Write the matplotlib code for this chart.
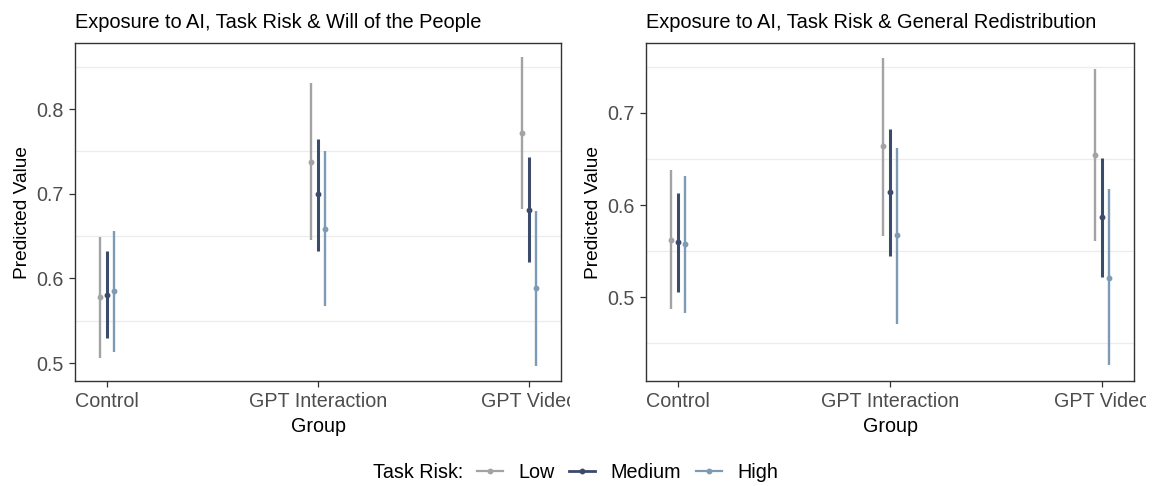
import numpy as np
import matplotlib.pyplot as plt
from matplotlib.lines import Line2D
from matplotlib.transforms import Bbox, TransformedBbox

plt.rcParams['font.family'] = ['Liberation Sans', 'DejaVu Sans']

groups = ["Control", "GPT Interaction", "GPT Video"]
risks = ["Low", "Medium", "High"]
colors = {"Low": "#a3a3a6", "Medium": "#3c4a6c", "High": "#7d9bb4"}

# Will of the People: estimate, lower, upper per risk level (Control, Interaction, Video)
will_est = {"Low": [0.578, 0.738, 0.772], "Medium": [0.581, 0.700, 0.681], "High": [0.585, 0.659, 0.589]}
will_lo = {"Low": [0.506, 0.646, 0.682], "Medium": [0.530, 0.633, 0.620], "High": [0.513, 0.568, 0.497]}
will_hi = {"Low": [0.649, 0.831, 0.861], "Medium": [0.632, 0.765, 0.743], "High": [0.656, 0.750, 0.680]}

# General Redistribution
red_est = {"Low": [0.562, 0.664, 0.654], "Medium": [0.560, 0.614, 0.587], "High": [0.558, 0.567, 0.521]}
red_lo = {"Low": [0.487, 0.566, 0.561], "Medium": [0.506, 0.545, 0.522], "High": [0.483, 0.471, 0.426]}
red_hi = {"Low": [0.638, 0.760, 0.748], "Medium": [0.613, 0.683, 0.651], "High": [0.632, 0.662, 0.617]}

W, H = 1158, 486
FS = 14.2
fig = plt.figure(figsize=(W / 100, H / 100), dpi=100)


def px_axes(x0, x1, y0, y1):
    return fig.add_axes([x0 / W, 1 - y1 / H, (x1 - x0) / W, (y1 - y0) / H])


def panel(ax, est, lo, hi, title, ylim, yticks, grid, clip_right):
    x = np.arange(1, len(groups) + 1)
    offs = {"Low": -0.033, "Medium": 0.0, "High": 0.033}
    for r in risks:
        xs = x + offs[r]
        lw = 2.2 if r == "Medium" else 1.7
        ax.vlines(xs, lo[r], hi[r], color=colors[r], linewidth=lw, zorder=3)
        ax.plot(xs, est[r], 'o', color=colors[r], markersize=3.2, zorder=4)
    for g in grid:
        ax.axhline(g, color="#ececec", linewidth=0.9, zorder=0)
    ax.set_xlim(0.85, 3.15)
    ax.set_ylim(*ylim)
    ax.set_yticks(yticks)
    ax.set_yticklabels([f"{t:.1f}" for t in yticks])
    ax.set_xticks(x)
    ax.set_xticklabels(groups)
    ax.tick_params(axis='both', labelsize=FS, labelcolor="#4d4d4d", color="#333333",
                   length=4, width=0.9, pad=4)
    for s in ax.spines.values():
        s.set_color("#333333")
        s.set_linewidth(1.0)
    ax.set_xlabel("Group", fontsize=FS, labelpad=4)
    ax.set_ylabel("Predicted Value", fontsize=FS - 0.4, labelpad=4)
    ax.set_title(title, fontsize=FS + 0.2, loc='left', pad=11)
    cb = TransformedBbox(Bbox([[0, 0], [clip_right / W, 1]]), fig.transFigure)
    for lbl in ax.get_xticklabels():
        lbl.set_clip_on(True)
        lbl.set_clip_box(cb)


ax1 = px_axes(75, 561, 43, 381)
panel(ax1, will_est, will_lo, will_hi, "Exposure to AI, Task Risk & Will of the People",
      (0.479, 0.878), [0.5, 0.6, 0.7, 0.8], [0.55, 0.65, 0.75, 0.85], 570)

ax2 = px_axes(646, 1134, 43, 381)
panel(ax2, red_est, red_lo, red_hi, "Exposure to AI, Task Risk & General Redistribution",
      (0.409, 0.776), [0.5, 0.6, 0.7], [0.45, 0.55, 0.65, 0.75], 1146)

fig.text(373 / W, 1 - 472 / H, "Task Risk:", fontsize=FS, va='center', ha='left')
handles = [Line2D([0], [0], color=colors[r], linewidth=2.0 if r == "Medium" else 1.6,
                  marker='o', markersize=3.2) for r in risks]
fig.legend(handles, risks, loc='center left', bbox_to_anchor=(477 / W, 1 - 472 / H),
           ncol=3, frameon=False, fontsize=FS, handlelength=1.3, handletextpad=0.8,
           columnspacing=0.75, borderpad=0, borderaxespad=0)

fig.savefig("out.png", dpi=100)
